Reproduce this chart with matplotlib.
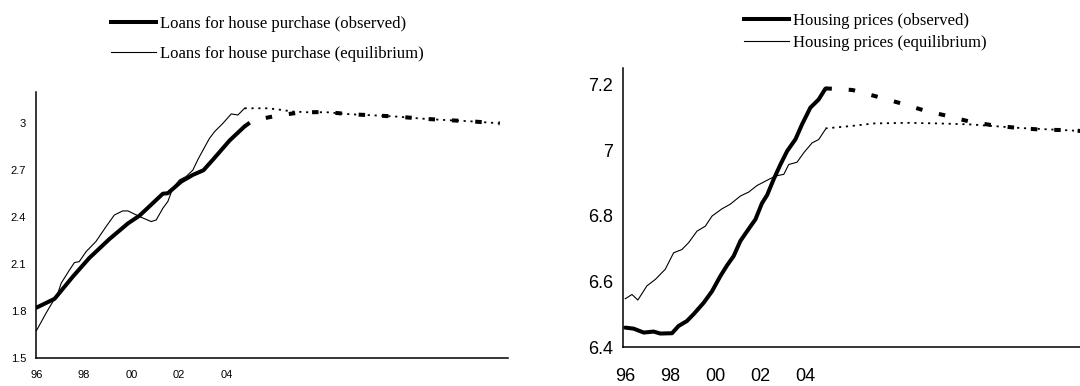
import matplotlib.pyplot as plt
from matplotlib.lines import Line2D

# Loans for house purchase (left panel)
loans_obs_x = [1996.0, 1996.76, 1997.53, 1998.23, 1999.07, 1999.85, 2000.34, 2000.83,
               2001.32, 2001.53, 2002.09, 2002.58, 2003.03, 2003.42, 2004.13, 2004.76]
loans_obs_y = [1.822, 1.878, 2.02, 2.14, 2.26, 2.36, 2.41, 2.48,
               2.55, 2.553, 2.627, 2.67, 2.70, 2.766, 2.89, 2.98]
loans_eq_x = [1996.0, 1996.4, 1996.9, 1997.04, 1997.39, 1997.6, 1997.8, 1998.09, 1998.5,
              1998.93, 1999.28, 1999.63, 1999.85, 2000.4, 2000.83, 2001.04, 2001.32,
              2001.53, 2001.74, 2002.02, 2002.3, 2002.58, 2002.8, 2003.28, 2003.5,
              2003.85, 2004.2, 2004.48, 2004.76]
loans_eq_y = [1.675, 1.786, 1.914, 1.978, 2.063, 2.11, 2.116, 2.18, 2.244,
              2.34, 2.414, 2.44, 2.44, 2.40, 2.372, 2.382, 2.457,
              2.50, 2.585, 2.638, 2.66, 2.70, 2.77, 2.903, 2.947,
              3.0, 3.06, 3.053, 3.096]
loans_obs_fc_x = [2004.76, 2005.1, 2006.16, 2007.14, 2008.2, 2009.18, 2010.17,
                  2011.14, 2012.2, 2013.18, 2014.23, 2015.5]
loans_obs_fc_y = [2.98, 3.017, 3.05, 3.07, 3.072, 3.058, 3.051,
                  3.043, 3.03, 3.021, 3.013, 3.0]
loans_eq_fc_x = [2004.76, 2005.67, 2006.1, 2006.8, 2007.5, 2008.2, 2009.18, 2010.17,
                 2011.14, 2012.2, 2013.18, 2014.23, 2015.5]
loans_eq_fc_y = [3.096, 3.096, 3.09, 3.075, 3.07, 3.071, 3.058, 3.051,
                 3.043, 3.03, 3.021, 3.013, 3.0]

# Housing prices (right panel)
house_obs_x = [1996.0, 1996.37, 1996.82, 1997.26, 1997.56, 1998.08, 1998.37, 1998.74,
               1999.04, 1999.49, 1999.86, 2000.23, 2000.53, 2000.82, 2001.12, 2001.42,
               2001.79, 2002.08, 2002.31, 2002.6, 2002.9, 2003.2, 2003.57, 2003.86,
               2004.23, 2004.6, 2004.9]
house_obs_y = [6.459, 6.456, 6.444, 6.447, 6.441, 6.442, 6.464, 6.479,
               6.50, 6.535, 6.57, 6.616, 6.649, 6.677, 6.723, 6.753,
               6.789, 6.838, 6.863, 6.911, 6.956, 6.997, 7.033, 7.078,
               7.129, 7.154, 7.187]
house_eq_x = [1996.0, 1996.3, 1996.56, 1996.96, 1997.34, 1997.78, 1998.15, 1998.52,
              1998.82, 1999.19, 1999.56, 1999.86, 2000.3, 2000.67, 2001.12, 2001.49,
              2001.86, 2002.31, 2002.68, 2003.05, 2003.27, 2003.64, 2003.94, 2004.31,
              2004.6, 2004.9]
house_eq_y = [6.547, 6.56, 6.543, 6.586, 6.606, 6.637, 6.687, 6.697,
              6.718, 6.753, 6.768, 6.799, 6.821, 6.835, 6.86, 6.872,
              6.892, 6.908, 6.921, 6.926, 6.956, 6.963, 6.992, 7.022,
              7.032, 7.063]
house_obs_fc_x = [2004.9, 2006.1, 2007.13, 2008.17, 2009.28, 2010.32, 2011.36,
                  2012.39, 2013.5, 2014.55, 2015.44, 2016.3]
house_obs_fc_y = [7.188, 7.183, 7.164, 7.144, 7.121, 7.104, 7.086,
                  7.075, 7.067, 7.062, 7.061, 7.058]
house_eq_fc_x = [2004.9, 2006.01, 2007.04, 2008.54, 2010.0, 2011.36, 2012.39,
                 2013.6, 2015.44, 2016.3]
house_eq_fc_y = [7.066, 7.073, 7.081, 7.083, 7.081, 7.078, 7.073,
                 7.067, 7.061, 7.058]

tick_years = [1996, 1998, 2000, 2002, 2004]
tick_labels = ['96', '98', '00', '02', '04']

THICK = 2.9
THIN = 0.8


def draw_panel(ax, obs, eq, obs_fc, eq_fc, xlim, ylim, yticks, ylabels, fsize, xpad):
    ax.plot(*eq, color='black', lw=THIN)
    ax.plot(*obs, color='black', lw=THICK, solid_capstyle='round')
    ax.plot(*eq_fc, color='black', lw=1.3, dashes=(1.2, 2.6))
    ax.plot(*obs_fc, color='black', lw=THICK, dashes=(1.6, 4.2))
    ax.set_xlim(*xlim)
    ax.set_ylim(*ylim)
    ax.set_xticks(tick_years)
    ax.set_xticklabels(tick_labels)
    ax.set_yticks(yticks)
    ax.set_yticklabels(ylabels)
    for s in ['top', 'right']:
        ax.spines[s].set_visible(False)
    for s in ['left', 'bottom']:
        ax.spines[s].set_linewidth(1.1)
    ax.tick_params(length=0, labelsize=fsize)
    ax.tick_params(axis='y', pad=7)
    ax.tick_params(axis='x', pad=xpad)
    for lab in ax.get_xticklabels() + ax.get_yticklabels():
        lab.set_family('Liberation Sans')


def add_legend(fig, labels, x, y, spacing):
    handles = [Line2D([], [], color='black', lw=THICK),
               Line2D([], [], color='black', lw=THIN)]
    fig.legend(handles, labels, loc='upper left', bbox_to_anchor=(x, y),
               frameon=False, borderpad=0, borderaxespad=0,
               handlelength=2.7, handletextpad=0.25, labelspacing=spacing,
               prop={'family': 'Liberation Serif', 'size': 12})


fig = plt.figure(figsize=(10.8, 3.86), dpi=100)

ax1 = fig.add_axes([36 / 1080, 28 / 386, 472 / 1080, 266 / 386])
draw_panel(ax1, (loans_obs_x, loans_obs_y), (loans_eq_x, loans_eq_y),
           (loans_obs_fc_x, loans_obs_fc_y), (loans_eq_fc_x, loans_eq_fc_y),
           (1995.98, 2015.85), (1.5, 3.2),
           [1.5, 1.8, 2.1, 2.4, 2.7, 3.0], ['1.5', '1.8', '2.1', '2.4', '2.7', '3'], 8, 9)

ax2 = fig.add_axes([623 / 1080, 39 / 386, 470 / 1080, 279 / 386])
draw_panel(ax2, (house_obs_x, house_obs_y), (house_eq_x, house_eq_y),
           (house_obs_fc_x, house_obs_fc_y), (house_eq_fc_x, house_eq_fc_y),
           (1995.9, 2016.8), (6.4, 7.25),
           [6.4, 6.6, 6.8, 7.0, 7.2], ['6.4', '6.6', '6.8', '7', '7.2'], 13, 15)

add_legend(fig, ['Loans for house purchase (observed)',
                 'Loans for house purchase (equilibrium)'],
           111 / 1080, 1 - 16 / 386, 0.85)
add_legend(fig, ['Housing prices (observed)', 'Housing prices (equilibrium)'],
           744 / 1080, 1 - 13 / 386, 0.38)

fig.savefig('out.png', dpi=100)
